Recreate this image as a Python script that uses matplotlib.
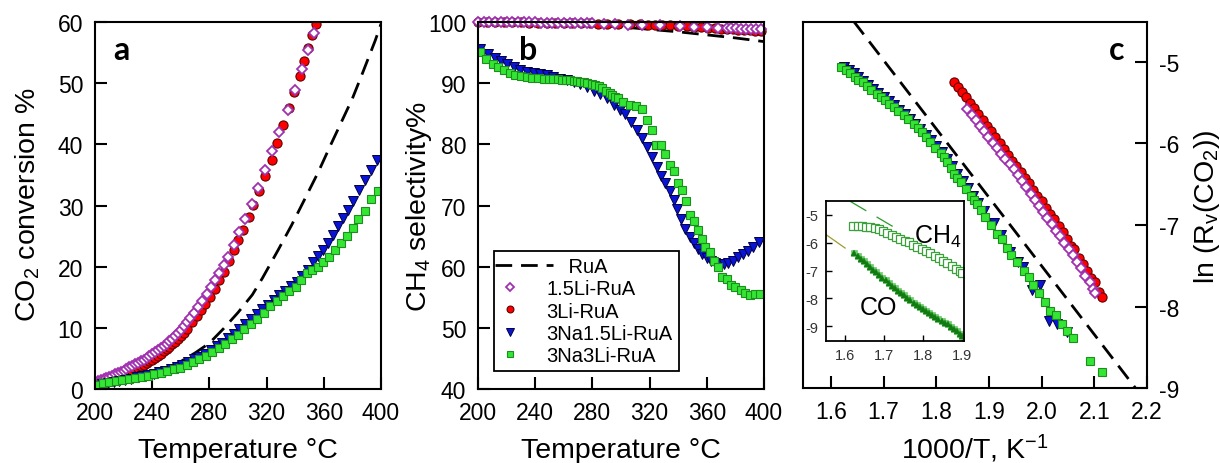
import numpy as np
import matplotlib
matplotlib.use("Agg")
import matplotlib.pyplot as plt
from matplotlib.legend_handler import HandlerLine2D

plt.rcParams.update({
    "font.family": ["Liberation Sans", "DejaVu Sans"],
    "mathtext.fontset": "custom",
    "mathtext.rm": "Liberation Sans",
    "mathtext.it": "Liberation Sans:italic",
    "axes.unicode_minus": False,
    "axes.linewidth": 1.5,
})

# ---------------------------------------------------------------------------
# (a) CO2 conversion vs temperature
# ---------------------------------------------------------------------------
A_RUA_T = [200, 210, 220, 230, 240, 250, 260, 270, 280, 290, 300, 310, 317,
           328, 337.5, 347, 356, 365, 373, 380, 386, 391, 396, 400]
A_RUA = [0.5, 0.9, 1.4, 1.9, 2.6, 3.4, 4.5, 5.9, 7.5, 9.9, 12.5, 15.4, 18.1,
         22.7, 26.8, 31.2, 35.4, 40.0, 44.0, 47.5, 51.0, 54.0, 57.0, 59.7]

A_LI15_T = [200, 202, 204, 206, 208, 210, 212, 214, 216, 218, 220, 222, 224,
            226, 228, 230, 232, 234, 236, 238, 240, 242, 244, 246, 248, 250,
            252, 254, 256, 258, 260, 262, 264, 266.5, 269, 272, 275, 278, 281,
            284, 287, 290, 293, 297, 301, 305, 310, 314, 319, 324, 329, 335,
            339.5, 344.5, 349, 353]
A_LI15 = [1.2, 1.35, 1.5, 1.65, 1.8, 2.0, 2.2, 2.4, 2.6, 2.8, 3.0, 3.3, 3.55,
          3.8, 4.05, 4.3, 4.55, 4.8, 5.1, 5.4, 5.7, 6.0, 6.35, 6.7, 7.05, 7.4,
          7.8, 8.2, 8.7, 9.2, 9.7, 10.3, 10.9, 11.6, 12.5, 13.4, 14.4, 15.5,
          16.6, 17.8, 18.9, 20.3, 21.6, 23.6, 25.6, 27.8, 30.3, 32.8, 35.8,
          38.9, 42.0, 45.6, 48.9, 52.3, 55.4, 58.2]

A_LI3_T = [200, 202, 204, 206, 208, 210, 212, 214, 216, 218, 220, 222, 224,
           226, 228, 230, 232, 234, 236, 238, 240, 242, 244, 246, 248, 250,
           252, 254, 256, 258, 260, 262, 264, 268, 271, 274, 277, 280.5, 284,
           287, 290, 293.5, 297, 300, 303.5, 307.5, 310.7, 315, 319, 323.5,
           327.5, 331.7, 335.7, 339.4, 343, 346.2, 349.2, 352, 354.5]
A_LI3 = [0.9, 1.0, 1.1, 1.25, 1.4, 1.55, 1.7, 1.85, 2.0, 2.2, 2.4, 2.6, 2.8,
         3.0, 3.25, 3.5, 3.75, 4.0, 4.25, 4.5, 4.8, 5.1, 5.45, 5.8, 6.15, 6.5,
         6.9, 7.3, 7.75, 8.2, 8.7, 9.2, 9.8, 11.0, 12.0, 12.9, 13.9, 15.1,
         16.4, 17.8, 19.2, 21.0, 22.7, 24.4, 26.0, 28.1, 30.1, 32.4, 34.9,
         37.5, 40.3, 43.2, 45.9, 48.6, 51.2, 53.6, 55.8, 57.9, 59.6]

A_NA15_T = [201, 205, 209, 213, 217, 221, 225, 229, 233, 237, 241, 245, 249,
            253, 257, 261, 265, 269, 273, 277, 281, 285, 289, 293, 297, 301,
            305, 309, 313, 317, 321, 325, 329, 333, 337, 341, 345, 349, 352.7,
            356.2, 359.2, 362.7, 366.2, 369.7, 373.6, 377.1, 380.6, 384.8,
            388.8, 392.8, 397]
A_NA15 = [0.5, 0.75, 0.95, 1.15, 1.3, 1.5, 1.7, 1.9, 2.1, 2.3, 2.5, 2.75, 3.0,
          3.3, 3.6, 4.0, 4.4, 4.9, 5.3, 5.8, 6.4, 7.0, 7.6, 8.3, 9.0, 9.8,
          10.6, 11.4, 12.2, 13.0, 13.8, 14.6, 15.4, 16.1, 16.8, 17.5, 18.4,
          19.5, 20.7, 21.8, 22.7, 23.9, 25.2, 26.6, 27.9, 29.3, 30.8, 32.5,
          34.1, 35.8, 37.5]

A_NA3_T = [201, 205.5, 210, 214.5, 219, 223.5, 228, 232.5, 237, 241.5, 246,
           250.5, 255, 259.5, 264, 268.5, 273, 277.5, 282, 286.5, 291, 295.5,
           300, 304.5, 309, 313.5, 318, 322.5, 327, 331.5, 336, 340.5, 344,
           348, 352, 355.7, 359.7, 363.6, 367.8, 372, 376, 380.6, 384.1,
           388.8, 393, 397.7]
A_NA3 = [0.7, 0.95, 1.15, 1.3, 1.45, 1.6, 1.8, 2.0, 2.2, 2.4, 2.65, 2.9, 3.2,
         3.5, 3.9, 4.35, 4.85, 5.4, 6.0, 6.7, 7.4, 8.1, 8.9, 9.8, 10.7, 11.5,
         12.4, 13.5, 14.4, 15.2, 16.0, 16.7, 17.8, 18.9, 19.5, 20.0, 20.8,
         21.6, 22.7, 23.8, 25.0, 26.3, 27.8, 29.1, 31.0, 32.4]

# ---------------------------------------------------------------------------
# (b) CH4 selectivity vs temperature
# ---------------------------------------------------------------------------
B_RUA_T = [200, 250, 280, 300, 320, 340, 360, 380, 400]
B_RUA = [100.0, 99.9, 99.5, 99.2, 98.8, 98.4, 97.9, 97.4, 96.8]

B_LI15_T = [200, 204, 208, 212, 216, 220, 224, 228, 232, 236, 240, 244, 248,
            252, 256, 260, 264, 268, 272, 276, 280, 288, 296, 305, 315, 327,
            341, 351, 360, 368, 374, 377, 380.5, 384, 387.5, 391, 394.5, 398]
B_LI15 = [100.0, 100.0, 100.0, 100.0, 100.0, 99.98, 99.97, 99.96, 99.95,
          99.94, 99.93, 99.92, 99.91, 99.9, 99.89, 99.88, 99.86, 99.84, 99.82,
          99.81, 99.8, 99.7, 99.6, 99.55, 99.5, 99.45, 99.35, 99.25, 99.15,
          99.05, 99.0, 98.98, 98.95, 98.92, 98.9, 98.87, 98.85, 98.8]

B_LI3_T = [200, 206, 212, 218, 224, 230, 236, 242, 248, 254, 260, 266, 272,
           278, 284, 290, 298, 306, 313, 319, 324, 329, 334, 340, 346, 351,
           356, 361, 366, 370, 374, 378, 382, 386, 390, 394, 398]
B_LI3 = [100.0, 100.0, 99.98, 99.96, 99.95, 99.93, 99.92, 99.9, 99.88, 99.86,
         99.85, 99.83, 99.8, 99.78, 99.75, 99.72, 99.68, 99.64, 99.6, 99.55,
         99.5, 99.48, 99.45, 99.38, 99.3, 99.25, 99.2, 99.08, 98.95, 98.9,
         98.85, 98.8, 98.75, 98.7, 98.65, 98.6, 98.55]

B_NA15_T = [201.6, 206.8, 211.6, 216.3, 220, 225, 229.6, 234, 238.9, 243.5,
            248, 252.8, 257.5, 262, 266.8, 271.5, 276, 281, 285.5, 290, 294.8,
            299.4, 303, 307, 311, 314.5, 318, 321.5, 325, 328, 331, 334, 337,
            339.5, 342, 345, 348, 351, 354, 357, 360, 363, 366, 369, 372, 375,
            378.6, 382, 385.6, 389, 392.6, 396.7]
B_NA15 = [95.6, 94.8, 94.1, 93.6, 93.1, 92.6, 92.2, 91.9, 91.7, 91.5, 91.3,
          91.0, 90.7, 90.5, 90.2, 89.8, 89.4, 88.8, 88.2, 87.5, 86.5, 85.6,
          84.9, 83.7, 82.3, 81.0, 79.6, 77.9, 76.3, 74.8, 73.6, 72.3, 70.9,
          69.4, 67.8, 66.2, 64.9, 63.8, 62.9, 62.0, 61.4, 60.9, 60.6, 60.4,
          60.4, 60.6, 61.0, 61.5, 62.1, 62.6, 63.2, 64.0]

B_NA3_T = [201.6, 205.8, 210.5, 214, 218, 222.6, 226, 230, 234, 237.7, 241.8,
           245.9, 249.5, 252.8, 256, 258.7, 261.5, 264.5, 267, 269, 271.5,
           273.8, 276.5, 279.6, 282, 284.3, 287, 289.6, 292, 294, 296, 298,
           301.7, 306, 310.5, 315, 318.5, 322, 324.6, 328, 330.8, 334, 337,
           340, 342.7, 345.5, 348, 351, 354, 357, 359, 362, 365, 368, 371,
           374, 377, 380, 383.6, 386.7, 390, 393.6, 397]
B_NA3 = [95.1, 94.0, 93.2, 92.6, 92.2, 91.7, 91.4, 91.2, 91.0, 90.9, 90.8,
         90.7, 90.7, 90.7, 90.65, 90.6, 90.55, 90.5, 90.4, 90.3, 90.25, 90.2,
         90.05, 89.9, 89.7, 89.5, 89.2, 88.8, 88.4, 88.0, 87.8, 87.6, 87.0,
         86.5, 86.3, 85.7, 84.0, 82.4, 79.9, 79.9, 78.5, 76.7, 75.6, 73.6,
         72.5, 70.7, 68.4, 67.5, 66.0, 64.5, 63.2, 62.4, 61.0, 59.9, 58.3,
         58.0, 57.0, 56.6, 56.2, 55.7, 55.3, 55.5, 55.5]

# ---------------------------------------------------------------------------
# (c) Arrhenius plot, ln rate vs 1000/T
# ---------------------------------------------------------------------------
C_RUA_X = [1.643, 2.178]
C_RUA = [-4.50, -9.00]

C_LI15_X = [1.859, 1.867, 1.875, 1.883, 1.891, 1.899, 1.907, 1.915, 1.923,
            1.931, 1.939, 1.947, 1.955, 1.963, 1.971, 1.979, 1.987, 1.995,
            2.003, 2.011, 2.019, 2.027, 2.035, 2.043, 2.051, 2.059, 2.067,
            2.075, 2.083, 2.091, 2.097, 2.102]
C_LI15 = [-5.58, -5.65, -5.71, -5.78, -5.85, -5.92, -5.99, -6.06, -6.13,
          -6.19, -6.25, -6.31, -6.39, -6.46, -6.54, -6.62, -6.69, -6.77,
          -6.84, -6.92, -6.99, -7.07, -7.14, -7.22, -7.29, -7.37, -7.45,
          -7.53, -7.62, -7.70, -7.78, -7.84]

C_LI3_X = [1.833, 1.841, 1.849, 1.856, 1.864, 1.872, 1.880, 1.888, 1.896,
           1.904, 1.912, 1.920, 1.928, 1.936, 1.944, 1.952, 1.960, 1.968,
           1.976, 1.984, 1.992, 2.000, 2.008, 2.016, 2.024, 2.032, 2.040,
           2.048, 2.056, 2.062, 2.070, 2.078, 2.086, 2.094, 2.101, 2.108,
           2.114]
C_LI3 = [-5.24, -5.31, -5.37, -5.43, -5.50, -5.57, -5.64, -5.71, -5.78,
         -5.85, -5.92, -5.99, -6.07, -6.14, -6.21, -6.28, -6.35, -6.42,
         -6.49, -6.57, -6.64, -6.71, -6.79, -6.86, -6.93, -7.01, -7.09,
         -7.17, -7.26, -7.30, -7.40, -7.48, -7.56, -7.65, -7.70, -7.82,
         -7.88]

C_NA15_X = [1.625, 1.634, 1.643, 1.652, 1.661, 1.670, 1.680, 1.690, 1.700,
            1.710, 1.720, 1.730, 1.740, 1.750, 1.760, 1.770, 1.780, 1.790,
            1.800, 1.810, 1.820, 1.830, 1.840, 1.850, 1.860, 1.870, 1.880,
            1.890, 1.909, 1.922, 1.940, 1.956, 1.965, 1.982, 1.997, 2.014,
            2.030, 2.048]
C_NA15 = [-5.06, -5.10, -5.14, -5.19, -5.23, -5.28, -5.33, -5.38, -5.43,
          -5.48, -5.53, -5.59, -5.64, -5.70, -5.76, -5.82, -5.89, -5.96,
          -6.03, -6.11, -6.19, -6.28, -6.37, -6.46, -6.55, -6.64, -6.73,
          -6.83, -6.98, -7.12, -7.33, -7.45, -7.52, -7.80, -7.74, -8.18,
          -8.21, -8.31]

C_NA3_X = [1.619, 1.628, 1.637, 1.645, 1.652, 1.660, 1.668, 1.677, 1.687,
           1.695, 1.703, 1.711, 1.719, 1.728, 1.738, 1.747, 1.757, 1.765,
           1.773, 1.780, 1.788, 1.798, 1.808, 1.814, 1.820, 1.827, 1.834,
           1.840, 1.846, 1.856, 1.865, 1.871, 1.877, 1.885, 1.893, 1.904,
           1.915, 1.925, 1.934, 1.942, 1.954, 1.966, 1.975, 1.983, 1.994,
           2.007, 2.016, 2.028, 2.039, 2.048, 2.059, 2.092, 2.115]
C_NA3 = [-5.06, -5.10, -5.14, -5.18, -5.22, -5.25, -5.29, -5.34, -5.39,
         -5.43, -5.47, -5.51, -5.55, -5.60, -5.65, -5.70, -5.76, -5.81,
         -5.86, -5.92, -5.98, -6.05, -6.12, -6.17, -6.23, -6.30, -6.37,
         -6.42, -6.47, -6.56, -6.64, -6.69, -6.74, -6.82, -6.90, -7.00,
         -7.11, -7.17, -7.28, -7.37, -7.45, -7.56, -7.64, -7.74, -7.84,
         -7.94, -8.05, -8.11, -8.21, -8.30, -8.39, -8.67, -8.80]

# inset: CH4 and CO formation rates for 3Na3Li-RuA
IN_CH4_X = [1.621, 1.632, 1.643, 1.654, 1.665, 1.676, 1.687, 1.698, 1.709,
            1.720, 1.731, 1.742, 1.753, 1.764, 1.775, 1.786, 1.797, 1.808,
            1.819, 1.830, 1.841, 1.852, 1.863, 1.874, 1.885, 1.896, 1.902]
IN_CH4 = [-5.40, -5.40, -5.41, -5.43, -5.45, -5.48, -5.52, -5.58, -5.64,
          -5.71, -5.78, -5.85, -5.92, -5.99, -6.07, -6.14, -6.22, -6.30,
          -6.37, -6.46, -6.55, -6.65, -6.74, -6.84, -6.93, -7.03, -7.07]
IN_CO_X = [1.624, 1.632, 1.640, 1.648, 1.656, 1.664, 1.672, 1.680, 1.688,
           1.696, 1.704, 1.712, 1.720, 1.728, 1.736, 1.744, 1.752, 1.760,
           1.768, 1.776, 1.784, 1.792, 1.800, 1.808, 1.816, 1.824, 1.832,
           1.840, 1.848, 1.856, 1.864, 1.872, 1.880, 1.888, 1.896, 1.902]
IN_CO = [-6.38, -6.47, -6.57, -6.67, -6.77, -6.87, -6.97, -7.06, -7.16,
         -7.26, -7.35, -7.45, -7.54, -7.63, -7.72, -7.81, -7.89, -7.98,
         -8.06, -8.15, -8.23, -8.31, -8.38, -8.46, -8.53, -8.60, -8.67,
         -8.74, -8.80, -8.87, -8.93, -9.01, -9.09, -9.18, -9.28, -9.36]
IN_CH4_FIT_X = [1.613, 1.733]
IN_CH4_FIT = [-4.51, -5.50]
IN_CO_FIT_X = [1.548, 1.600]
IN_CO_FIT = [-5.68, -6.19]

TEMP_TICKS = [200, 240, 280, 320, 360, 400]
C_XTICKS = [1.6, 1.7, 1.8, 1.9, 2.0, 2.1, 2.2]
C_YTICKS = [-5, -6, -7, -8, -9]
IN_XTICKS = [1.6, 1.7, 1.8, 1.9]
IN_YTICKS = [-5, -6, -7, -8, -9]

LABELS = ["RuA", "1.5Li-RuA", "3Li-RuA", "3Na1.5Li-RuA", "3Na3Li-RuA"]

# marker styles per catalyst
DASH = dict(color="black", lw=2.0, dashes=(6.0, 3.2))
STY_LI15 = dict(ls="none", marker="D", ms=5.2, mfc="white", mec="#a030b0", mew=1.3)
STY_LI3 = dict(ls="none", marker="o", ms=6.6, mfc="#ff0000", mec="#600000", mew=0.8)
STY_NA15 = dict(ls="none", marker="v", ms=7.0, mfc="#0a14d6", mec="#000040", mew=0.7)
STY_NA3 = dict(ls="none", marker="s", ms=5.8, mfc="#33e633", mec="#1e8c1e", mew=0.8)

TICK_FS = 16.5
LABEL_FS = 20.5
PANEL_FS = 23


class _LongDashHandler(HandlerLine2D):
    """Legend handle whose line runs past the usual handle box."""

    def get_xdata(self, legend, xdescent, ydescent, width, height, fontsize):
        xdata, xdata_marker = super().get_xdata(legend, xdescent, ydescent,
                                                width, height, fontsize)
        x0 = -xdescent - 0.25 * width
        xdata = np.linspace(x0, x0 + 2.9 * width, len(xdata))
        return xdata, xdata_marker


def _style_temp_axis(ax):
    ax.set_xlim(200, 400)
    ax.set_xticks(TEMP_TICKS)
    ax.tick_params(direction="in", length=8.5, width=1.5, labelsize=TICK_FS,
                   pad=8.5, top=False, right=False)


def _panel_letter(ax, x, s):
    ax.text(x, 0.9, s, transform=ax.transAxes, fontsize=PANEL_FS,
            fontweight="bold", family="Lato", ha="left", va="baseline")


fig = plt.figure(figsize=(12.2, 4.64), dpi=100)

# ---- panel a --------------------------------------------------------------
ax_a = fig.add_axes([0.0779, 0.1595, 0.2344, 0.7909])
ax_a.plot(A_RUA_T, A_RUA, **DASH)
ax_a.plot(A_LI3_T, A_LI3, **STY_LI3)
ax_a.plot(A_LI15_T, A_LI15, **STY_LI15)
ax_a.plot(A_NA15_T, A_NA15, **STY_NA15)
ax_a.plot(A_NA3_T, A_NA3, **STY_NA3)
_style_temp_axis(ax_a)
ax_a.set_ylim(0, 60)
ax_a.set_yticks([0, 10, 20, 30, 40, 50, 60])
_panel_letter(ax_a, 0.062, "a")

# ---- panel b --------------------------------------------------------------
ax_b = fig.add_axes([0.3918, 0.1595, 0.2344, 0.7909])
h_rua, = ax_b.plot(B_RUA_T, B_RUA, **DASH)
h_li3, = ax_b.plot(B_LI3_T, B_LI3, clip_on=False, **STY_LI3)
h_li15, = ax_b.plot(B_LI15_T, B_LI15, clip_on=False, **STY_LI15)
h_na15, = ax_b.plot(B_NA15_T, B_NA15, **STY_NA15)
h_na3, = ax_b.plot(B_NA3_T, B_NA3, **STY_NA3)
_style_temp_axis(ax_b)
ax_b.set_ylim(40, 100)
ax_b.set_yticks([40, 50, 60, 70, 80, 90, 100])
_panel_letter(ax_b, 0.142, "b")

leg = ax_b.legend([h_rua, h_li15, h_li3, h_na15, h_na3],
                  ["    " + LABELS[0]] + LABELS[1:],
                  handler_map={h_rua: _LongDashHandler()},
                  loc="lower left", bbox_to_anchor=(0.056, 0.049),
                  borderaxespad=0, fontsize=14.5, handlelength=1.0,
                  handletextpad=1.3, labelspacing=0.16, borderpad=0.3,
                  markerscale=0.75, fancybox=False, framealpha=1,
                  edgecolor="black")
leg.get_frame().set_linewidth(1.3)

# ---- panel c --------------------------------------------------------------
ax_c = fig.add_axes([0.6582, 0.1616, 0.282, 0.7888])
ax_c.plot(C_RUA_X, C_RUA, **DASH)
ax_c.plot(C_LI3_X, C_LI3, **STY_LI3)
ax_c.plot(C_LI15_X, C_LI15, **STY_LI15)
ax_c.plot(C_NA15_X, C_NA15, **STY_NA15)
ax_c.plot(C_NA3_X, C_NA3, **STY_NA3)
ax_c.set_xlim(1.547, 2.2)
ax_c.set_ylim(-9.0, -4.51)
ax_c.set_xticks(C_XTICKS)
ax_c.set_xticklabels([f"{v:.1f}" for v in C_XTICKS])
ax_c.set_yticks(C_YTICKS)
ax_c.yaxis.tick_right()
ax_c.tick_params(direction="in", length=8.5, width=1.5, labelsize=TICK_FS,
                 pad=8.5, top=False, left=False)
_panel_letter(ax_c, 0.89, "c")

# inset with CH4 / CO rates
ax_in = fig.add_axes([0.6768, 0.2629, 0.1134, 0.3017])
ax_in.plot(IN_CO_FIT_X, IN_CO_FIT, color="#a09a30", lw=0.9)
ax_in.plot(IN_CH4_FIT_X, IN_CH4_FIT, color="#2a9a2a", lw=0.9,
           dashes=(15, 9.5))
ax_in.plot(IN_CH4_X, IN_CH4, ls="none", marker="s", ms=5.2, mfc="white",
           mec="#3aa03a", mew=0.9)
ax_in.plot(IN_CO_X, IN_CO, ls="none", marker="s", ms=5.0, mfc="#6acd6a",
           mec="#6acd6a", mew=0.5)
ax_in.plot(IN_CO_X, IN_CO, ls="none", marker="^", ms=4.2, mfc="#117a11",
           mec="#117a11", mew=0.3)
ax_in.set_xlim(1.55, 1.906)
ax_in.set_ylim(-9.53, -4.5)
ax_in.set_xticks(IN_XTICKS)
ax_in.set_xticklabels([f"{v:.1f}" for v in IN_XTICKS])
ax_in.set_yticks(IN_YTICKS)
ax_in.tick_params(direction="in", length=4, width=1.0, labelsize=10.5,
                  labelcolor="#333333", pad=5, top=False, right=False)
for sp in ax_in.spines.values():
    sp.set_linewidth(1.3)
ax_in.text(0.81, 0.75, "CH$_\\mathregular{4}$", transform=ax_in.transAxes,
           fontsize=18, ha="center", va="center")
ax_in.text(0.38, 0.24, "CO", transform=ax_in.transAxes, fontsize=18,
           ha="center", va="center")

# ---- axis titles ------------------------------------------------------------
fig.text(0.0225, 0.558, "CO$_\\mathregular{2}$ conversion %", rotation=90,
         fontsize=LABEL_FS, ha="center", va="center")
fig.text(0.3435, 0.554, "CH$_\\mathregular{4}$ selectivity%", rotation=90,
         fontsize=LABEL_FS, ha="center", va="center")
fig.text(0.989, 0.554, "ln (R$_\\mathregular{v}$(CO$_\\mathregular{2}$))",
         rotation=90, fontsize=LABEL_FS, ha="center", va="center")
fig.text(0.1951, 0.012, "Temperature \u00b0C", fontsize=LABEL_FS,
         ha="center", va="baseline")
fig.text(0.5090, 0.012, "Temperature \u00b0C", fontsize=LABEL_FS,
         ha="center", va="baseline")
fig.text(0.7992, 0.012, "1000/T, K$^\\mathregular{-1}$", fontsize=LABEL_FS,
         ha="center", va="baseline")

fig.savefig("out.png", dpi=100)
plt.close(fig)
